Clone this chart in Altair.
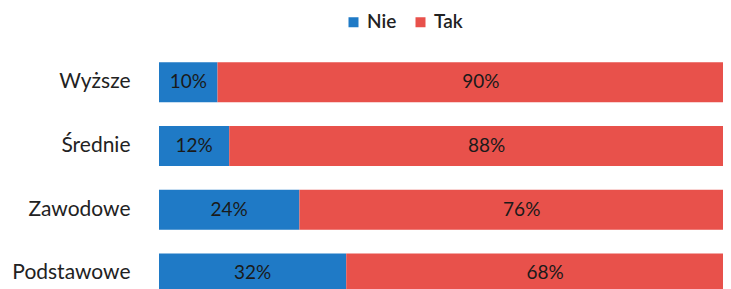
import altair as alt
import pandas as pd

categories = ["Wyższe", "Średnie", "Zawodowe", "Podstawowe"]
nie = [10, 12, 24, 32]
tak = [90, 88, 76, 68]
series = ["Nie", "Tak"]
colors = ["#1F7AC6", "#E8514B"]

rows = []
for c, n, t in zip(categories, nie, tak):
    rows.append({"cat": c, "series": "Nie", "value": n, "ord": 0})
    rows.append({"cat": c, "series": "Tak", "value": t, "ord": 1})
df = pd.DataFrame(rows)

FONT = "Lato"

base = alt.Chart(df).transform_stack(
    stack="value", groupby=["cat"], as_=["x0", "x1"], sort=[alt.SortField("ord")]
).transform_calculate(mid="(datum.x0 + datum.x1) / 2", label="datum.value + '%'")

y_enc = alt.Y(
    "cat:N",
    sort=categories,
    title=None,
    scale=alt.Scale(paddingInner=0.372, paddingOuter=0.186),
    axis=alt.Axis(domain=False, ticks=False, grid=False, labelFontSize=21,
                  labelColor="#222222", labelFont=FONT, labelPadding=29),
)

xscale = alt.Scale(domain=[0, 96.4], nice=False, zero=True)

bars = base.mark_bar(clip=True).encode(
    x=alt.X("x0:Q", scale=xscale, axis=None),
    x2="x1:Q",
    y=y_enc,
    color=alt.Color(
        "series:N",
        scale=alt.Scale(domain=series, range=colors),
        legend=alt.Legend(
            title=None, orient="none", direction="horizontal",
            legendX=185, legendY=-38, symbolType="square", symbolSize=100,
            symbolStrokeWidth=0, labelFontSize=19, labelFont=FONT,
            labelFontWeight=600, labelColor="#222222", columnPadding=14,
            labelOffset=4,
        ),
    ),
)

labels = base.mark_text(fontSize=19, font=FONT, color="#1a1a1a").encode(
    x=alt.X("mid:Q", scale=xscale),
    y=alt.Y("cat:N", sort=categories),
    text="label:N",
)

chart = (bars + labels).properties(
    width=564,
    height=254.8,
    padding={"left": 151, "top": 42.5, "right": 0, "bottom": 0},
    autosize=alt.AutoSizeParams(type="none"),
).configure_view(stroke=None)

chart.save("out.html", embed_options={"renderer": "svg", "actions": False})
